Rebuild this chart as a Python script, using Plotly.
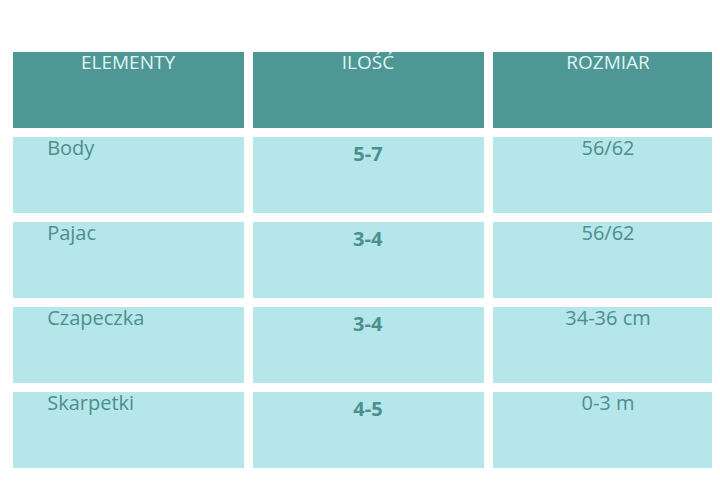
import plotly.graph_objects as go

headers = ["ELEMENTY", "ILOŚĆ", "ROZMIAR"]
elements = ["Body", "Pajac", "Czapeczka", "Skarpetki"]
amounts = ["5-7", "3-4", "3-4", "4-5"]
sizes = ["56/62", "56/62", "34-36 cm", "0-3 m"]

pad = "\u00a0" * 6
fig = go.Figure(go.Table(
    domain=dict(x=[0, 1], y=[0, 1 - 39 / 500]),
    columnwidth=[1, 1, 1],
    header=dict(
        values=headers,
        fill_color="#4f9795",
        font=dict(family="Open Sans", size=19, color="#dff5f3"),
        align="center",
        height=85,
        line=dict(color="white", width=9),
    ),
    cells=dict(
        values=[[pad + e for e in elements],
                ["<b>" + a + "</b>" for a in amounts],
                sizes],
        fill_color="#b5e6ea",
        font=dict(family="Open Sans", size=20, color="#4d8f8c"),
        align=["left", "center", "center"],
        height=85,
        line=dict(color="white", width=9),
    ),
))
fig.update_layout(width=720, height=500, margin=dict(l=0, r=0, t=0, b=0),
                  paper_bgcolor="white")
fig.write_html("out.html")
